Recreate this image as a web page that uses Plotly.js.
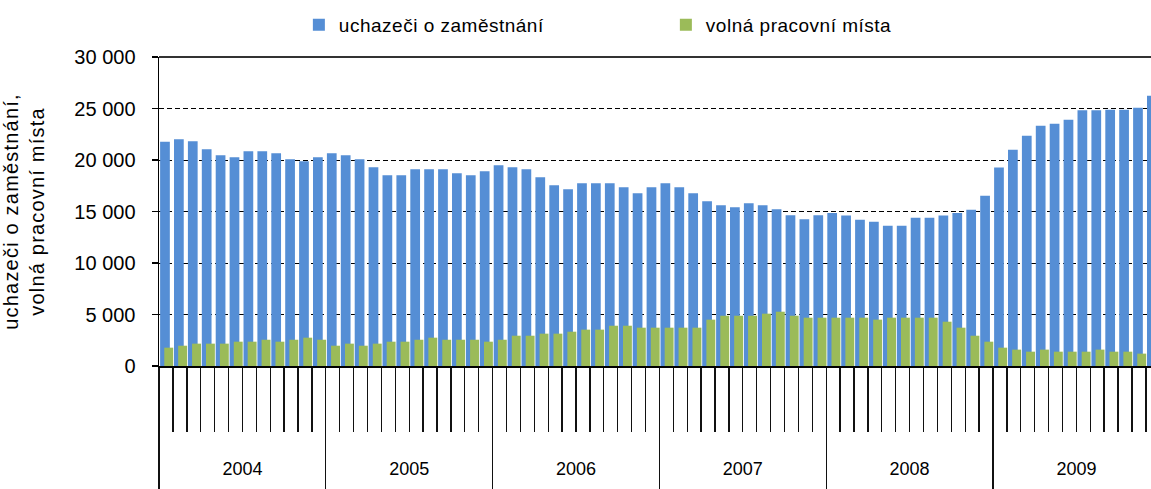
<!DOCTYPE html>
<html>
<head>
<meta charset="utf-8">
<script src="https://cdn.plot.ly/plotly-3.0.1.min.js"></script>
<style>
html,body{margin:0;padding:0;background:#fff;}
#chart{width:1151px;height:489px;}
#chart .legendtext{letter-spacing:0.5px;}
#chart .ytitle{letter-spacing:1.2px;}
</style>
</head>
<body>
<div id="chart"></div>
<script>
// Years shown on the axis (12 monthly values per year)
var years = ['2004', '2005', '2006', '2007', '2008', '2009'];
var monthsPerYear = 12;

// uchazeči o zaměstnání (monthly, Jan 2004 – Dec 2009)
var uchazeci = [
  21780, 22010, 21810, 21040, 20450, 20260, 20840, 20840, 20650, 20070, 19870, 20260,
  20650, 20450, 20070, 19290, 18510, 18510, 19100, 19100, 19100, 18710, 18510, 18900,
  19480, 19290, 19100, 18320, 17540, 17150, 17740, 17740, 17740, 17350, 16770, 17350,
  17740, 17350, 16770, 15990, 15600, 15410, 15800, 15600, 15210, 14630, 14240, 14630,
  14850, 14600, 14210, 14010, 13620, 13620, 14400, 14400, 14600, 14850, 15180, 16540,
  19260, 21000, 22360, 23330, 23530, 23910, 24820, 24820, 24890, 24890, 25080, 26240
];

// volná pracovní místa (monthly, Jan 2004 – Dec 2009)
var volna = [
  1780, 1970, 2170, 2170, 2170, 2360, 2360, 2550, 2360, 2550, 2750, 2550,
  1970, 2170, 1970, 2170, 2360, 2360, 2550, 2750, 2550, 2550, 2550, 2360,
  2550, 2940, 2940, 3140, 3140, 3330, 3530, 3530, 3910, 3910, 3720, 3720,
  3720, 3720, 3720, 4500, 4880, 4880, 4880, 5080, 5270, 4880, 4690, 4690,
  4690, 4690, 4690, 4500, 4690, 4690, 4690, 4690, 4300, 3720, 2940, 2360,
  1780, 1590, 1390, 1590, 1390, 1390, 1390, 1590, 1390, 1390, 1200, 1200
];

var seriesNames = ['uchazeči o zaměstnání', 'volná pracovní místa'];
var yTitle = 'uchazeči o zaměstnání,<br>volná pracovní místa';

var idx = uchazeci.map(function (_, i) { return i; });
var yearCenters = years.map(function (_, k) { return k * monthsPerYear + (monthsPerYear - 1) / 2; });

var FONT = 'Liberation Sans, Arial, sans-serif';

var traces = [
  {
    type: 'bar', name: seriesNames[0], x: idx, y: uchazeci,
    offset: -0.42, width: 0.7,
    marker: {color: '#558ED5', line: {width: 0}},
    xaxis: 'x', yaxis: 'y', hoverinfo: 'y'
  },
  {
    type: 'bar', name: seriesNames[1], x: idx, y: volna,
    offset: -0.12, width: 0.64,
    marker: {color: '#9BBB59', line: {width: 0}},
    xaxis: 'x2', yaxis: 'y', hoverinfo: 'y'
  }
];

var xr = [-0.5, -0.5 + 992 / 13.9];

var layout = {
  width: 1151, height: 489,
  margin: {l: 159, r: 0, t: 57, b: 123, pad: 0},
  paper_bgcolor: '#fff', plot_bgcolor: '#fff',
  font: {family: FONT, size: 18, color: '#000'},
  separators: ', ',
  barmode: 'overlay',
  showlegend: true,
  legend: {
    orientation: 'h', x: 0.141, y: 1.104, xanchor: 'left', yanchor: 'middle',
    font: {family: FONT, size: 19, color: '#000'},
    entrywidth: 322, entrywidthmode: 'pixels',
    bgcolor: 'rgba(0,0,0,0)', traceorder: 'normal'
  },
  xaxis: {
    range: xr, fixedrange: true,
    showgrid: false, zeroline: false,
    showline: true, linecolor: '#000', linewidth: 1.5,
    tickmode: 'linear', tick0: -0.5, dtick: monthsPerYear,
    ticks: 'outside', ticklen: 123, tickwidth: 1.4, tickcolor: '#111',
    showticklabels: false,
    minor: {ticks: 'outside', tick0: -0.5, dtick: 1, ticklen: 64, tickwidth: 1.4, tickcolor: '#111', showgrid: false}
  },
  xaxis2: {
    range: xr, overlaying: 'x', anchor: 'y', side: 'bottom', fixedrange: true,
    showgrid: false, zeroline: false, showline: false,
    tickmode: 'array', tickvals: yearCenters, ticktext: years,
    ticks: 'outside', ticklen: 86, tickcolor: 'rgba(0,0,0,0)',
    tickfont: {family: FONT, size: 18, color: '#000'}
  },
  yaxis: {
    range: [0, 30000], fixedrange: true,
    tickmode: 'linear', tick0: 0, dtick: 5000, tickformat: ',d',
    showgrid: true, gridcolor: '#000', gridwidth: 1, griddash: '5px,3px',
    zeroline: false,
    showline: true, linecolor: '#000', linewidth: 1.5,
    ticks: 'outside', ticklen: 6, tickwidth: 1.3, tickcolor: '#000',
    ticklabelstandoff: 12,
    tickfont: {family: FONT, size: 20, color: '#000'},
    automargin: true,
    title: {text: yTitle, standoff: 24, font: {family: FONT, size: 20, color: '#000'}}
  },
  shapes: [
    {type: 'line', xref: 'paper', yref: 'paper', x0: 0, x1: 1, y0: 1, y1: 1,
     line: {color: '#333', width: 2}}
  ]
};

Plotly.newPlot('chart', traces, layout, {displayModeBar: false, staticPlot: true});
</script>
</body>
</html>
